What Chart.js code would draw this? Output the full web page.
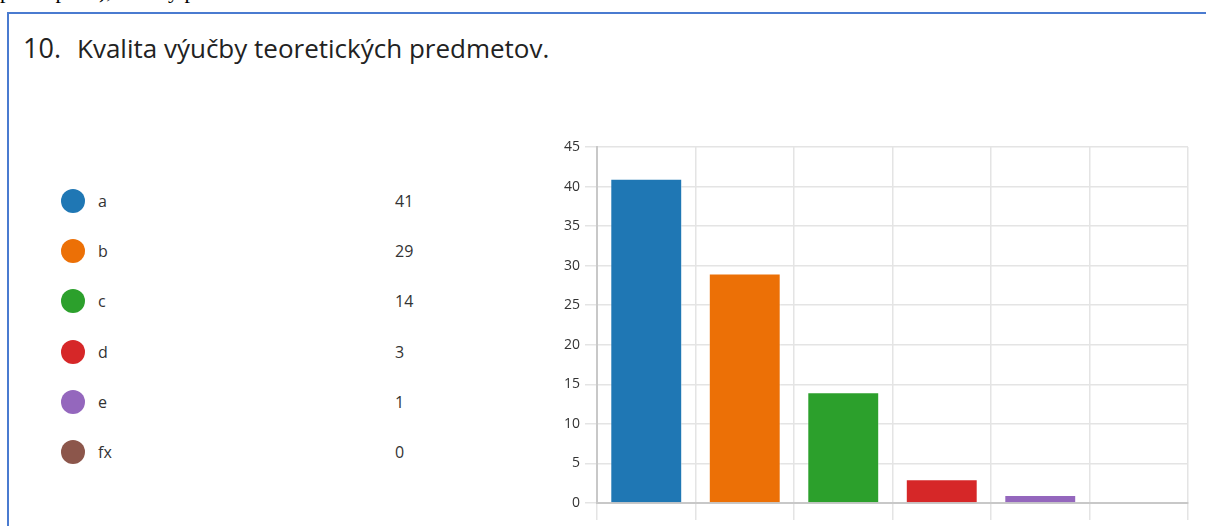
<!DOCTYPE html>
<html>
<head>
<meta charset="utf-8">
<script src="https://cdn.jsdelivr.net/npm/chart.js@4"></script>
<style>
    html, body { margin: 0; padding: 0; background: #fff; width: 1206px; height: 526px; overflow: hidden; position: relative; font-family: 'Open Sans', sans-serif; }
    #prev { position: absolute; left: 0; top: -22px; font: 22px 'Liberation Serif', serif; color: #000; white-space: nowrap; }
    #box { position: absolute; left: 7px; top: 12px; width: 1250px; height: 600px; border-top: 2px solid #4a7bd0; border-left: 2px solid #4a7bd0; }
    #title { position: absolute; left: 23px; top: 29px; font-size: 26px; color: #222; white-space: nowrap; }
    #title .num { font-size: 27px; margin-right: 16px; }
    .row { position: absolute; left: 61px; height: 24px; font-size: 16px; color: #333; }
    .dot { position: absolute; left: 0; top: 0; width: 24px; height: 24px; border-radius: 50%; }
    .lbl { position: absolute; left: 37px; top: 1px; }
    .val { position: absolute; left: 334px; top: 1px; }
    #chart { position: absolute; left: 0; top: 0; }
</style>
</head>
<body>
<div id="prev">pri stupni a), a ktorý predmet</div>
<div id="box"></div>
<div id="title"><span class="num">10.</span>Kvalita výučby teoretických predmetov.</div>
<div id="legend"></div>
<canvas id="chart" width="1206" height="526"></canvas>
<script>
// Data
const labels = ['a', 'b', 'c', 'd', 'e', 'fx'];
const counts = [41, 29, 14, 3, 1, 0];
const colors = ['#1f77b4', '#ec7006', '#2ca02c', '#d62728', '#9467bd', '#8c564b'];
const yTicks = [0, 5, 10, 15, 20, 25, 30, 35, 40, 45];

// ── Legend ──────────────────────────────
document.getElementById('legend').innerHTML = labels.map((l, i) => `
    <div class="row" style="top:${189 + i * 50.2}px">
        <span class="dot" style="background:${colors[i]}"></span>
        <span class="lbl">${l}</span>
        <span class="val">${counts[i]}</span>
    </div>`).join('');

// ── Chart ───────────────────────────────
Chart.defaults.font.family = "'Open Sans', sans-serif";
Chart.defaults.animation = false;

new Chart(document.getElementById('chart'), {
    type: 'bar',
    data: {
        labels: labels,
        datasets: [{
            data: counts,
            backgroundColor: colors,
            borderColor: 'rgba(255,255,255,0.45)',
            borderWidth: 1,
            categoryPercentage: 1,
            barPercentage: 0.73,
        }]
    },
    options: {
        responsive: false,
        layout: { padding: { left: 540, top: 147, right: 18, bottom: 6 } },
        plugins: { legend: { display: false }, tooltip: { enabled: false } },
        scales: {
            x: {
                ticks: { display: false },
                grid: { color: '#e4e4e4', lineWidth: 1.5, tickLength: 17 },
                border: { color: '#c8c8c8', width: 2 },
                afterFit: s => { s.height = 17; }
            },
            y: {
                min: 0,
                max: yTicks[yTicks.length - 1],
                afterBuildTicks: s => { s.ticks = yTicks.map(v => ({ value: v })); },
                ticks: { color: '#333', font: { size: 14 }, padding: 5 },
                grid: { color: '#e4e4e4', lineWidth: 1.5, tickLength: 12 },
                border: { color: '#c8c8c8', width: 2 },
                afterFit: s => { s.width = 57; }
            }
        }
    }
});
</script>
</body>
</html>
